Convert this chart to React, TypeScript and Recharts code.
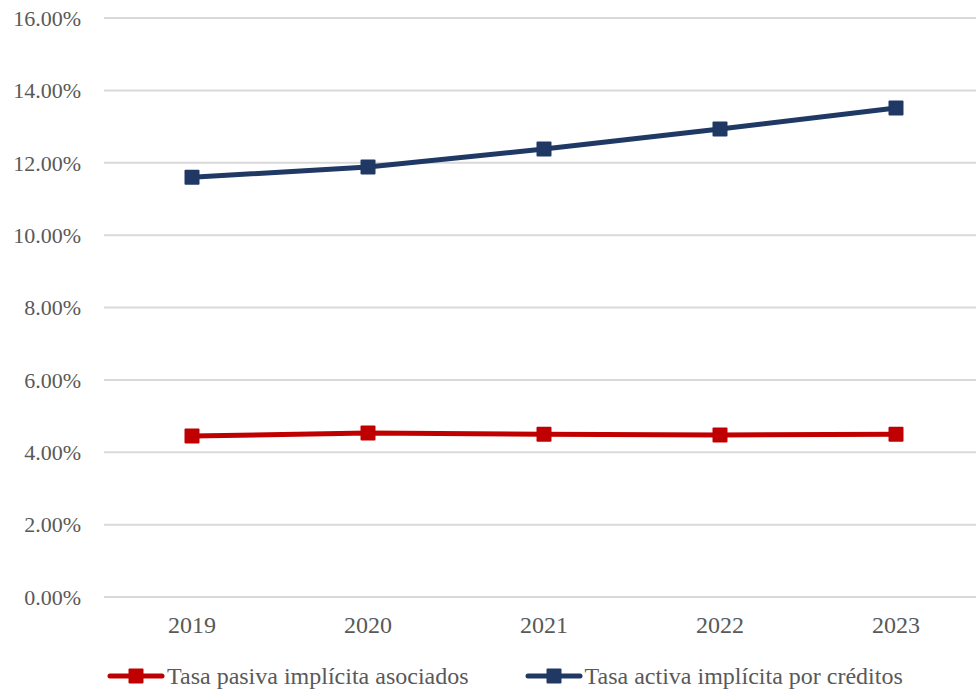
import { LineChart, Line, XAxis, YAxis, CartesianGrid } from "recharts";

const YEARS = ["2019", "2020", "2021", "2022", "2023"];
const TASA_PASIVA = [4.45, 4.53, 4.5, 4.48, 4.5];
const TASA_ACTIVA = [11.6, 11.88, 12.38, 12.93, 13.51];
const Y_TICKS = [0, 2, 4, 6, 8, 10, 12, 14, 16];

const RED = "#C00000";
const BLUE = "#1F3864";
const TEXT = "#595959";
const FONT = "'Liberation Serif', 'Times New Roman', serif";

const data = YEARS.map((year, i) => ({
    year,
    pasiva: TASA_PASIVA[i],
    activa: TASA_ACTIVA[i],
}));

// square markers like the original
const SquareDot = (color: string) => (props: any) => {
    const { cx, cy, index } = props;
    if (cx == null || cy == null) return null;
    return (
        <rect
            key={`dot-${color}-${index}`}
            x={cx - 7.5}
            y={cy - 7.5}
            width={15}
            height={15}
            fill={color}
            rx={1}
        />
    );
};

const LegendItem = ({ color, label }: { color: string; label: string }) => (
    <div style={{ display: "flex", alignItems: "center" }}>
        <svg width={58} height={20} style={{ marginRight: 2 }}>
            <line x1={3} y1={10} x2={55} y2={10} stroke={color} strokeWidth={5} strokeLinecap="round" />
            <rect x={21.5} y={2.5} width={15} height={15} fill={color} rx={1} />
        </svg>
        <span>{label}</span>
    </div>
);

export default function App() {
    return (
        <div
            style={{
                position: "absolute",
                left: 0,
                top: 0,
                width: 976,
                height: 691,
                overflow: "hidden",
                background: "#fff",
                fontFamily: FONT,
            }}
        >
            <LineChart
                width={984}
                height={691}
                data={data}
                margin={{ top: 18, right: 0, bottom: 54, left: 0 }}
            >
                <CartesianGrid vertical={false} stroke="#D9D9D9" strokeWidth={2} />
                <XAxis
                    dataKey="year"
                    axisLine={false}
                    tickLine={false}
                    tickSize={0}
                    tickMargin={19}
                    height={40}
                    padding={{ left: 88, right: 88 }}
                    tick={{ fill: TEXT, fontSize: 24, fontFamily: FONT }}
                />
                <YAxis
                    domain={[0, 16]}
                    ticks={Y_TICKS}
                    interval={0}
                    width={104}
                    axisLine={false}
                    tickLine={false}
                    tickSize={0}
                    tickMargin={23}
                    tickFormatter={(v: number) => `${v.toFixed(2)}%`}
                    tick={{ fill: TEXT, fontSize: 22, fontFamily: FONT }}
                />
                <Line
                    type="linear"
                    dataKey="pasiva"
                    stroke={RED}
                    strokeWidth={5}
                    dot={SquareDot(RED)}
                    activeDot={false}
                    isAnimationActive={false}
                />
                <Line
                    type="linear"
                    dataKey="activa"
                    stroke={BLUE}
                    strokeWidth={5}
                    dot={SquareDot(BLUE)}
                    activeDot={false}
                    isAnimationActive={false}
                />
            </LineChart>
            <div
                style={{
                    position: "absolute",
                    top: 665,
                    left: 107,
                    display: "flex",
                    gap: 56,
                    color: TEXT,
                    fontSize: 24,
                    lineHeight: "22px",
                }}
            >
                <LegendItem color={RED} label="Tasa pasiva implícita asociados" />
                <LegendItem color={BLUE} label="Tasa activa implícita por créditos" />
            </div>
        </div>
    );
}
